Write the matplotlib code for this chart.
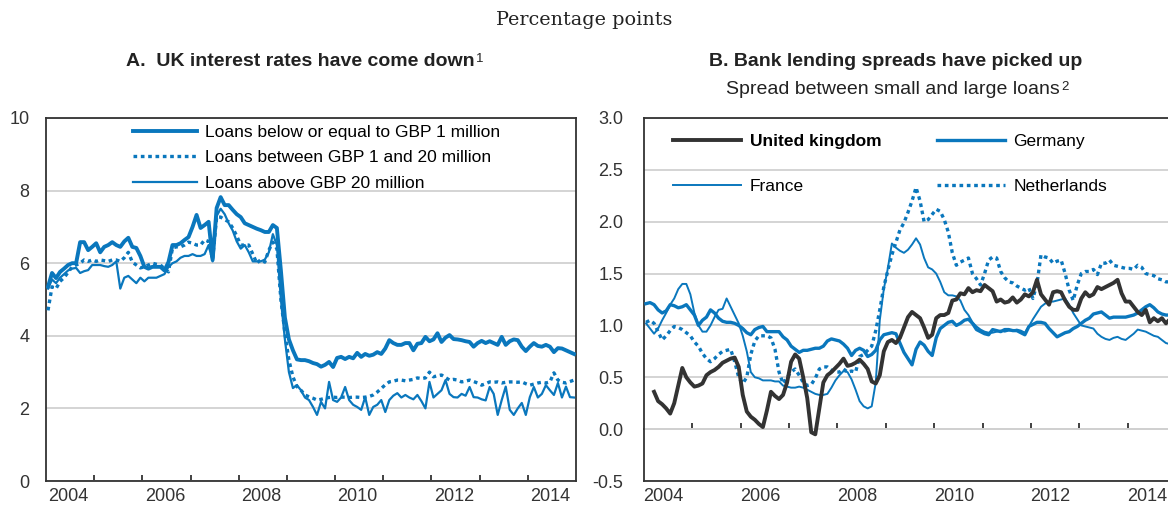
import numpy as np
import matplotlib
matplotlib.use("Agg")
import matplotlib.pyplot as plt

plt.rcParams["font.family"] = ["Liberation Sans", "DejaVu Sans"]
plt.rcParams["axes.unicode_minus"] = False

BLUE = "#0a77bd"
DARK = "#333333"
GRID = "#d4d4d4"
FS = 12.5      # legend text
TICK_FS = 13
TITLE_FS = 14

# x axis: months counted from January 2004 (0 = 2004M1)
years = [2004, 2006, 2008, 2010, 2012, 2014]

# Panel A: UK interest rates, monthly from 2004M1, per cent
a_small = [5.35, 5.73, 5.59, 5.76, 5.85, 5.95, 6.0, 6.0, 6.58, 6.58,
           6.36, 6.45, 6.55, 6.3, 6.45, 6.5, 6.58, 6.5, 6.45, 6.6,
           6.7, 6.45, 6.42, 6.2, 5.9, 5.85, 5.9, 5.9, 5.9, 5.8,
           6.03, 6.5, 6.5, 6.55, 6.64, 6.72, 7.0, 7.33, 6.97, 7.05,
           7.14, 6.09, 7.52, 7.82, 7.6, 7.6, 7.47, 7.35, 7.27, 7.1,
           7.05, 7.0, 6.95, 6.91, 6.86, 6.86, 7.05, 6.97, 5.8, 4.5,
           3.9, 3.6, 3.35, 3.33, 3.33, 3.3, 3.25, 3.22, 3.15, 3.2,
           3.28, 3.14, 3.39, 3.42, 3.36, 3.42, 3.38, 3.53, 3.42, 3.5,
           3.45, 3.48, 3.55, 3.5, 3.65, 3.88, 3.8, 3.75, 3.75, 3.8,
           3.8, 3.6, 3.78, 3.8, 3.97, 3.85, 3.9, 4.07, 3.83, 3.95,
           4.02, 3.91, 3.9, 3.88, 3.85, 3.83, 3.7, 3.8, 3.86, 3.8,
           3.85, 3.8, 3.75, 3.97, 3.75, 3.85, 3.9, 3.88, 3.7, 3.58,
           3.7, 3.8, 3.72, 3.7, 3.75, 3.7, 3.55, 3.66, 3.65, 3.6,
           3.55, 3.5]
a_mid = [4.7, 5.35, 5.3, 5.5, 5.6, 5.75, 5.9, 5.95, 6.0, 6.09,
         6.05, 6.09, 6.05, 6.09, 6.07, 6.05, 6.09, 6.09, 6.05, 6.15,
         6.3, 6.03, 5.95, 5.87, 5.9, 5.95, 6.0, 5.97, 5.95, 5.85,
         5.76, 6.42, 6.45, 6.45, 6.5, 6.58, 6.55, 6.5, 6.5, 6.64,
         6.6, 6.1, 7.27, 7.27, 7.2, 7.14, 6.97, 6.75, 6.5, 6.5,
         6.5, 6.25, 6.0, 6.1, 6.03, 6.36, 6.58, 6.4, 5.0, 4.07,
         3.33, 2.87, 2.6, 2.5, 2.37, 2.32, 2.28, 2.23, 2.25, 2.28,
         2.3, 2.31, 2.3, 2.31, 2.31, 2.3, 2.31, 2.31, 2.3, 2.31,
         2.33, 2.37, 2.45, 2.55, 2.65, 2.73, 2.75, 2.78, 2.78, 2.76,
         2.78, 2.8, 2.84, 2.82, 2.84, 3.0, 2.87, 2.9, 2.92, 2.85,
         2.78, 2.8, 2.78, 2.73, 2.75, 2.78, 2.74, 2.7, 2.64, 2.68,
         2.73, 2.72, 2.73, 2.7, 2.72, 2.73, 2.73, 2.72, 2.73, 2.68,
         2.64, 2.67, 2.7, 2.72, 2.7, 2.73, 2.98, 2.78, 2.72, 2.7,
         2.74, 2.78]
a_large = [5.3, 5.55, 5.45, 5.6, 5.7, 5.8, 5.85, 5.87, 5.73, 5.78,
           5.81, 5.95, 5.95, 5.95, 5.92, 5.9, 5.95, 6.05, 5.3, 5.6,
           5.65, 5.55, 5.45, 5.6, 5.5, 5.6, 5.6, 5.6, 5.65, 5.7,
           5.9, 6.0, 6.05, 6.15, 6.2, 6.2, 6.25, 6.2, 6.2, 6.25,
           6.5, 6.05, 7.3, 7.5, 7.35, 7.1, 6.9, 6.6, 6.4, 6.5,
           6.3, 6.05, 6.05, 6.05, 6.1, 6.3, 6.8, 6.5, 5.0, 3.9,
           3.0, 2.56, 2.64, 2.5, 2.3, 2.23, 2.04, 1.82, 2.18, 2.0,
           2.73, 2.23, 2.18, 2.3, 2.59, 2.23, 2.1, 2.04, 1.96, 2.31,
           1.82, 2.04, 2.1, 2.23, 1.9, 2.23, 2.35, 2.42, 2.3, 2.37,
           2.3, 2.25, 2.37, 2.2, 2.0, 2.73, 2.3, 2.4, 2.5, 2.78,
           2.4, 2.31, 2.3, 2.4, 2.35, 2.59, 2.31, 2.3, 2.25, 2.22,
           2.59, 2.4, 1.82, 2.23, 2.6, 1.96, 1.82, 2.0, 2.15, 1.82,
           2.31, 2.59, 2.3, 2.4, 2.64, 2.5, 2.37, 2.7, 2.3, 2.6,
           2.31, 2.3]

# Panel B: spread between small and large loans, percentage points
uk_start = 2  # first observation 2004M3
uk = [0.36, 0.27, 0.24, 0.2, 0.15, 0.25, 0.42, 0.59, 0.5, 0.45,
      0.41, 0.42, 0.44, 0.52, 0.55, 0.57, 0.6, 0.64, 0.66, 0.68,
      0.69, 0.6, 0.33, 0.17, 0.12, 0.09, 0.05, 0.02, 0.18, 0.36,
      0.32, 0.29, 0.33, 0.45, 0.65, 0.72, 0.68, 0.5, 0.3, -0.03,
      -0.05, 0.2, 0.45, 0.52, 0.55, 0.59, 0.63, 0.68, 0.61, 0.62,
      0.64, 0.67, 0.63, 0.58, 0.46, 0.44, 0.52, 0.75, 0.84, 0.86,
      0.83, 0.88, 0.98, 1.08, 1.13, 1.1, 1.07, 0.98, 0.88, 0.91,
      1.07, 1.1, 1.1, 1.12, 1.24, 1.25, 1.31, 1.3, 1.36, 1.32,
      1.34, 1.33, 1.39, 1.36, 1.33, 1.23, 1.25, 1.22, 1.23, 1.27,
      1.22, 1.25, 1.3, 1.28, 1.32, 1.44, 1.3, 1.25, 1.2, 1.32,
      1.33, 1.32, 1.24, 1.18, 1.15, 1.15, 1.26, 1.32, 1.28, 1.3,
      1.37, 1.35, 1.37, 1.39, 1.41, 1.44, 1.31, 1.23, 1.23, 1.18,
      1.13, 1.1, 1.15, 1.03, 1.07, 1.04, 1.07, 1.02, 1.06]
germany = [1.21, 1.22, 1.2, 1.15, 1.12, 1.14, 1.2, 1.19, 1.17, 1.18,
           1.2, 1.15, 1.1, 1.0, 1.05, 1.08, 1.15, 1.12, 1.07, 1.04,
           1.03, 1.03, 1.02, 1.0, 0.97, 0.93, 0.91, 0.96, 0.98, 0.99,
           0.94, 0.94, 0.94, 0.94, 0.89, 0.86, 0.8, 0.77, 0.74, 0.76,
           0.76, 0.77, 0.78, 0.78, 0.8, 0.85, 0.87, 0.86, 0.85, 0.82,
           0.78, 0.71, 0.76, 0.78, 0.76, 0.7, 0.72, 0.76, 0.86, 0.91,
           0.92, 0.93, 0.92, 0.83, 0.74, 0.68, 0.62, 0.77, 0.84, 0.81,
           0.75, 0.71, 0.88, 0.97, 1.0, 1.03, 1.04, 1.0, 1.02, 1.05,
           1.06, 1.02, 0.96, 0.94, 0.92, 0.91, 0.96, 0.95, 0.94, 0.96,
           0.96, 0.95, 0.95, 0.93, 0.91, 0.99, 1.01, 1.03, 1.03, 1.02,
           0.97, 0.93, 0.89, 0.91, 0.93, 0.94, 0.97, 0.99, 1.02, 1.05,
           1.07, 1.11, 1.12, 1.13, 1.1, 1.07, 1.08, 1.08, 1.08, 1.08,
           1.09, 1.1, 1.12, 1.15, 1.18, 1.2, 1.17, 1.13, 1.11, 1.1,
           1.1]
france = [1.02, 0.97, 0.92, 0.97, 1.05, 1.12, 1.2, 1.26, 1.35, 1.4,
          1.4, 1.3, 1.12, 1.0, 0.94, 0.94, 1.0, 1.08, 1.15, 1.16,
          1.26, 1.18, 1.1, 1.02, 0.9, 0.75, 0.55, 0.5, 0.49, 0.47,
          0.47, 0.47, 0.46, 0.46, 0.42, 0.41, 0.4, 0.4, 0.41, 0.4,
          0.38, 0.36, 0.34, 0.33, 0.33, 0.34, 0.4, 0.47, 0.52, 0.56,
          0.55, 0.48, 0.38, 0.27, 0.22, 0.2, 0.22, 0.45, 1.05, 1.35,
          1.55, 1.79, 1.75, 1.72, 1.7, 1.73, 1.78, 1.84, 1.78, 1.65,
          1.56, 1.54, 1.5, 1.42, 1.32, 1.29, 1.29, 1.28, 1.24, 1.15,
          1.1, 1.03, 0.99, 0.96, 0.94, 0.93, 0.93, 0.94, 0.95, 0.94,
          0.95, 0.95, 0.96, 0.95, 0.93, 0.99, 1.06, 1.12, 1.18, 1.21,
          1.23, 1.23, 1.24, 1.25, 1.26, 1.2, 1.12, 1.06, 1.0, 0.99,
          0.98, 0.97, 0.92, 0.89, 0.87, 0.86, 0.88, 0.89, 0.87, 0.86,
          0.89, 0.92, 0.96, 0.95, 0.94, 0.92, 0.9, 0.89, 0.86, 0.83,
          0.82]
netherlands = [1.03, 1.05, 1.02, 0.94, 0.86, 0.9, 0.95, 0.99, 0.98, 0.96,
               0.93, 0.9, 0.84, 0.8, 0.73, 0.68, 0.65, 0.68, 0.72, 0.75,
               0.76, 0.77, 0.65, 0.5, 0.44, 0.5, 0.72, 0.85, 0.9, 0.9,
               0.9, 0.88, 0.77, 0.55, 0.44, 0.5, 0.55, 0.58, 0.52, 0.45,
               0.42, 0.43, 0.49, 0.58, 0.6, 0.6, 0.57, 0.55, 0.55, 0.58,
               0.55, 0.56, 0.55, 0.7, 0.72, 0.76, 0.8, 0.95, 1.15, 1.37,
               1.53, 1.68, 1.8, 1.92, 1.99, 2.09, 2.2, 2.33, 2.2, 2.0,
               2.02, 2.07, 2.12, 2.1, 2.02, 1.9, 1.7, 1.58, 1.61, 1.63,
               1.65, 1.5, 1.45, 1.39, 1.5, 1.63, 1.66, 1.65, 1.52, 1.46,
               1.42, 1.41, 1.38, 1.36, 1.34, 1.36, 1.26, 1.4, 1.68, 1.66,
               1.65, 1.6, 1.62, 1.63, 1.5, 1.34, 1.24, 1.39, 1.5, 1.52,
               1.52, 1.54, 1.49, 1.6, 1.6, 1.63, 1.58, 1.57, 1.56, 1.55,
               1.55, 1.54, 1.58, 1.56, 1.5, 1.49, 1.48, 1.45, 1.44, 1.42,
               1.42]

DOTS = (0, (1.1, 1.1))


def months(values, start=0):
    return np.arange(len(values)) + start


def style_axes(ax, ylim, yticks, ylabels, label_shift):
    ax.set_xlim(-0.5, 131.5)
    ax.set_ylim(*ylim)
    ax.set_yticks(yticks, ylabels)
    for s in ax.spines.values():
        s.set_color(DARK)
        s.set_linewidth(1.3)
    ax.tick_params(axis="y", length=0, pad=12, labelsize=TICK_FS, labelcolor=DARK)
    # year labels sit in the middle of each year (a bit to the left, as in the source)
    ax.set_xticks([(y - 2004) * 12 + 5.5 - label_shift for y in years],
                  [str(y) for y in years])
    ax.tick_params(axis="x", which="major", length=0, pad=5,
                   labelsize=TICK_FS, labelcolor=DARK)
    ax.grid(axis="y", color=GRID, lw=1.4)
    ax.set_axisbelow(True)


year_starts = [(y - 2004) * 12 - 0.5 for y in range(2005, 2015)]

fig = plt.figure(figsize=(11.68, 5.07), dpi=100)
axa = fig.add_axes([46 / 1168, 26 / 507, 530 / 1168, 363 / 507])
axb = fig.add_axes([644 / 1168, 26 / 507, 532 / 1168, 363 / 507])

# ---- panel A
style_axes(axa, (0, 10), [0, 2, 4, 6, 8, 10], ["0", "2", "4", "6", "8", "10"], 0.4)
axa.set_xticks(year_starts, minor=True)
axa.tick_params(axis="x", which="minor", direction="in", length=4,
                width=1.3, color=DARK)
axa.plot(months(a_large), a_large, color=BLUE, lw=1.6,
         label="Loans above GBP 20 million", zorder=3)
axa.plot(months(a_mid), a_mid, color=BLUE, lw=2.4, ls=DOTS,
         label="Loans between GBP 1 and 20 million", zorder=4)
axa.plot(months(a_small), a_small, color=BLUE, lw=2.8,
         label="Loans below or equal to GBP 1 million", zorder=5)
h, l = axa.get_legend_handles_labels()
axa.legend(h[::-1], l[::-1], loc="upper left", bbox_to_anchor=(0.164, 0.982),
           frameon=False, fontsize=FS, handlelength=3.7, handletextpad=0.45,
           labelspacing=0.6, borderpad=0, borderaxespad=0)

# ---- panel B
style_axes(axb, (-0.5, 3.0), [-0.5, 0, 0.5, 1, 1.5, 2, 2.5, 3],
           ["-0.5", "0.0", "0.5", "1.0", "1.5", "2.0", "2.5", "3.0"], 1.1)
axb.tick_params(axis="y", pad=15)
zero = axb.secondary_xaxis(0.5 / 3.5)
zero.set_xticks(year_starts)
zero.tick_params(direction="in", length=4, width=1.3, color=DARK,
                 labelbottom=False)
zero.spines["bottom"].set_color(DARK)
zero.spines["bottom"].set_linewidth(1.3)

l_uk, = axb.plot(months(uk, uk_start), uk, color=DARK, lw=2.8, zorder=5)
l_de, = axb.plot(months(germany), germany, color=BLUE, lw=2.4, zorder=4)
l_fr, = axb.plot(months(france), france, color=BLUE, lw=1.4, zorder=3)
l_nl, = axb.plot(months(netherlands), netherlands, color=BLUE, lw=2.4,
                 ls=DOTS, zorder=3)
leg = axb.legend([l_uk, l_fr, l_de, l_nl],
                 ["United kingdom", "France", "Germany", "Netherlands"],
                 ncol=2, loc="upper left", bbox_to_anchor=(0.055, 0.957),
                 frameon=False, fontsize=FS, handlelength=3.9,
                 handletextpad=0.5, labelspacing=1.72, columnspacing=3.2,
                 borderpad=0, borderaxespad=0)
leg.get_texts()[0].set_fontweight("bold")

# ---- titles
fig.text(0.5, 1 - 20 / 507, "Percentage points", ha="center", va="center",
         family="DejaVu Serif", fontsize=13.8, color="#222222")
ta = fig.text(300 / 1168, 1 - 62 / 507, "A.  UK interest rates have come down",
              ha="center", va="center", fontsize=TITLE_FS, fontweight="bold",
              color="#222222")
axa.annotate("1", xy=(1.0, 1.0), xycoords=ta, xytext=(1, 0),
             textcoords="offset points", ha="left", va="top", fontsize=9.5,
             color="#222222", annotation_clip=False)
fig.text(896 / 1168, 1 - 62 / 507, "B. Bank lending spreads have picked up",
         ha="center", va="center", fontsize=TITLE_FS, fontweight="bold",
         color="#222222")
tb = fig.text(893 / 1168, 1 - 90 / 507, "Spread between small and large loans",
              ha="center", va="center", fontsize=TITLE_FS, color="#222222")
axb.annotate("2", xy=(1.0, 1.0), xycoords=tb, xytext=(1, 0),
             textcoords="offset points", ha="left", va="top", fontsize=9.5,
             color="#222222", annotation_clip=False)

fig.savefig("out.png", dpi=100)
